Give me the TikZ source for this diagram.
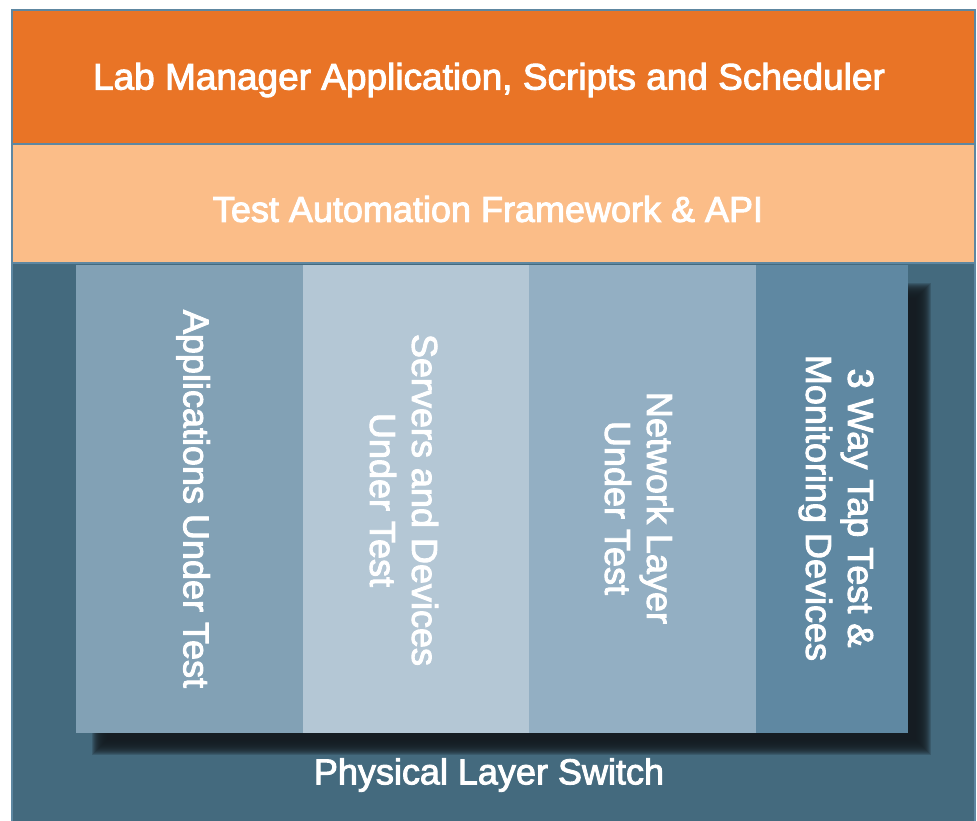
\documentclass[tikz,border=0pt]{standalone}
\usepackage{fontspec}
\setmainfont{Liberation Sans}[FakeBold=2.6]
\usetikzlibrary{positioning}
\definecolor{mgrorange}{HTML}{E97426}
\definecolor{apipeach}{HTML}{FBBD88}
\definecolor{switchblue}{HTML}{446A7E}
\definecolor{appblue}{HTML}{82A1B5}
\definecolor{srvblue}{HTML}{B4C7D5}
\definecolor{netblue}{HTML}{93AFC3}
\definecolor{tapblue}{HTML}{5F88A2}
\definecolor{frameblue}{HTML}{5E87A1}
\definecolor{shadowdark}{HTML}{151C22}
\tikzset{
    lbl/.style={text=white, font=\fontsize{36}{42}\selectfont, align=center, inner sep=0pt},
    band/.style={rectangle, inner sep=0pt, minimum width=963pt},
    col/.style={rectangle, inner sep=0pt, outer sep=0pt, minimum height=467pt, anchor=north west, fill=#1, draw=#1, line width=0.6pt},
}
\begin{document}
\begin{tikzpicture}[x=1pt,y=-1pt]
                 \useasboundingbox (0,0) rectangle (977,821);
                 \fill[switchblue](12,263) rectangle (975,823);
                 \node[band, fill=mgrorange, minimum height=134pt](mgr) at (493.5,77){};
                 \node[band, fill=apipeach, minimum height=119pt](api) at (493.5,203.5){};
                 \node[lbl, font=\fontsize{37}{42}\selectfont](mgrtxt) at (489,80){Lab Manager Application, Scripts and Scheduler};
                 \node[lbl](apitxt) at (488,209){Test Automation Framework \& API};
                 % blurred shadow
                 \foreach \d in {-8,...,8}
                     \fill[shadowdark, opacity=0.2](100+\d,291+\d) rectangle (923-\d,747-\d);
                 \node[col=appblue, minimum width=226.4pt](apps) at (76.3,265.3){};
                 \node[col=srvblue, minimum width=225.4pt, right=0.6pt of apps](srv){};
                 \node[col=netblue, minimum width=226.4pt, right=0.6pt of srv](net){};
                 \node[col=tapblue, minimum width=151.4pt, right=0.6pt of net](tap){};
                 \node[lbl, rotate=-90](appstxt) at (193,499){Applications Under Test};
                 \node[lbl, rotate=-90](srvtxt) at (404,500){Servers and Devices\\Under Test};
                 \node[lbl, rotate=-90](nettxt) at (639,508){Network Layer\\Under Test};
                 \node[lbl, rotate=-90](taptxt) at (836,508){3 Way Tap Test \&\\Monitoring Devices};
                 \node[lbl](switchtxt) at (489,775){Physical Layer Switch};
                 \draw[frameblue, line width=2.2pt](mgr.south west)--(mgr.south east);
                 \draw[frameblue, line width=2.2pt](api.south west)--(api.south east);
                 \draw[frameblue, line width=2.5pt](12,10) rectangle (975,823);
             \end{tikzpicture}
\end{document}
